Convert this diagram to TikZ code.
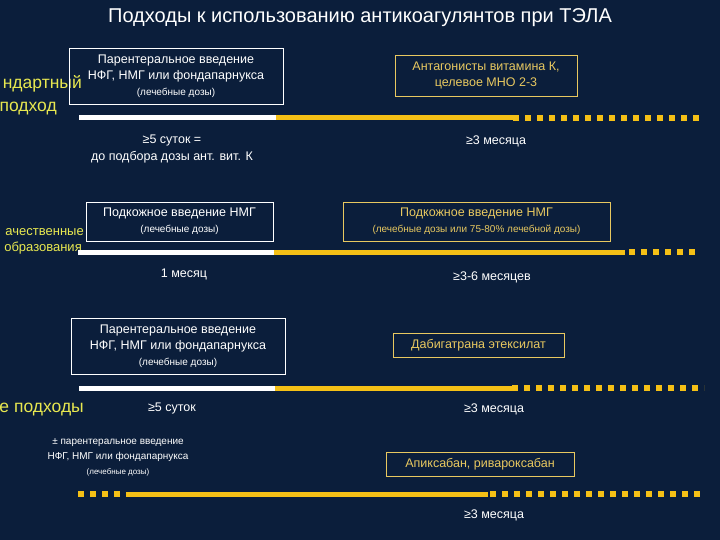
\documentclass[tikz,border=0pt]{standalone}
\usepackage{fontspec}
\setmainfont{Liberation Sans}
\definecolor{bg}{HTML}{0B1E3B}
\definecolor{ybar}{HTML}{F5C016}
\definecolor{ytext}{HTML}{E8C860}
\definecolor{ylab}{HTML}{E8E850}
\tikzset{
 wbox/.style={draw=white,line width=0.8pt,text=white,align=center,inner sep=0pt},
 ybox/.style={draw=ytext,line width=0.8pt,text=ytext,align=center,inner sep=0pt},
 txt/.style={text=white,align=center,inner sep=0pt},
 lab/.style={text=ylab,inner sep=0pt},
 wbar/.style={draw=white,line width=5pt},
 ybarsolid/.style={draw=ybar,line width=5pt},
 ydots/.style={draw=ybar,line width=6pt,dash pattern=on 6pt off 6pt},
}
\newcommand{\fs}[1]{\fontsize{#1}{#1}\selectfont}
\begin{document}
\begin{tikzpicture}[x=1pt,y=-1pt]
\fill[bg] (0,0) rectangle (720,540);
\useasboundingbox (0,0) rectangle (720,540);
\clip (0,0) rectangle (720,540);
\node[txt] (title) at (360,18) {\fs{20}Подходы к использованию антикоагулянтов при ТЭЛА};
% left labels (cut at the left edge in the reference)
\node[lab,anchor=east] (l1a) at (82,84) {\fs{17.5}ндартный};
\node[lab,anchor=east] (l1b) at (57,109) {\fs{17.5}подход};
\node[lab,anchor=east] (l2a) at (84,232) {\fs{13}ачественные};
\node[lab,anchor=east] (l2b) at (82,248) {\fs{13}образования};
\node[lab,anchor=east] (l3) at (84,410) {\fs{17.5}е подходы};
% row 1
\node[wbox,minimum width=214,minimum height=56] (b1) at (176,76) {\fs{12.5}Парентеральное введение\\[4pt]\fs{12.5}НФГ, НМГ или фондапарнукса\\[4pt]\fs{10}(лечебные дозы)};
\node[ybox,minimum width=182,minimum height=41] (b2) at (486,75.5) {\fs{12.5}Антагонисты витамина К,\\[4pt]\fs{12.5}целевое МНО 2-3};
\coordinate (a1) at (79,118); \coordinate (a2) at (276,118); \coordinate (a3) at (513,118); \coordinate (a4) at (704,118);
\draw[wbar] (a1) -- (a2);
\draw[ybarsolid] (a2) -- (a3);
\draw[ydots] (a3) -- (a4);
\node[txt] (t1) at (172,149) {\fs{12.5}≥5 суток =\\[5pt]\fs{12.5}до подбора дозы ант. вит. К};
\node[txt] (t2) at (496,141) {\fs{12.5}≥3 месяца};
% row 2
\node[wbox,minimum width=187,minimum height=39] (b3) at (179.5,221.5) {\fs{12.5}Подкожное введение НМГ\\[4pt]\fs{10}(лечебные дозы)};
\node[ybox,minimum width=267,minimum height=39] (b4) at (476.5,221.5) {\fs{12.5}Подкожное введение НМГ\\[4pt]\fs{10}(лечебные дозы или 75-80\% лечебной дозы)};
\coordinate (c1) at (78,252); \coordinate (c2) at (274,252); \coordinate (c3) at (625,252); \coordinate (c4) at (700,252);
\draw[wbar] (c1) -- (c2);
\draw[ybarsolid] (c2) -- (c3);
\draw[ydots] ([xshift=4pt]c3) -- (c4);
\node[txt] (t3) at (184,274) {\fs{12.5}1 месяц};
\node[txt] (t4) at (492,277) {\fs{12.5}≥3-6 месяцев};
% row 3
\node[wbox,minimum width=214,minimum height=56] (b5) at (178,346) {\fs{12.5}Парентеральное введение\\[4pt]\fs{12.5}НФГ, НМГ или фондапарнукса\\[4pt]\fs{10}(лечебные дозы)};
\node[ybox,minimum width=171,minimum height=24] (b6) at (478.5,345.5) {\fs{12.5}Дабигатрана этексилат};
\coordinate (d1) at (79,388); \coordinate (d2) at (275,388); \coordinate (d3) at (512,388); \coordinate (d4) at (704,388);
\draw[wbar] (d1) -- (d2);
\draw[ybarsolid] (d2) -- (d3);
\draw[ydots] (d3) -- (d4);
\node[txt] (t5) at (172,408) {\fs{12.5}≥5 суток};
\node[txt] (t6) at (494,409) {\fs{12.5}≥3 месяца};
% row 4
\node[txt] (t7) at (118,457) {\fs{10}± парентеральное введение\\[3pt]\fs{10}НФГ, НМГ или фондапарнукса\\[3pt]\fs{8}(лечебные дозы)};
\node[ybox,minimum width=188,minimum height=24] (b7) at (480,464.5) {\fs{12.5}Апиксабан, ривароксабан};
\coordinate (e1) at (78,494); \coordinate (e2) at (124,494); \coordinate (e3) at (488,494); \coordinate (e4) at (704,494);
\draw[ydots] (e1) -- (e2);
\draw[ybarsolid] ([xshift=2pt]e2) -- (e3);
\draw[ydots] ([xshift=2pt]e3) -- (e4);
\node[txt] (t8) at (494,515) {\fs{12.5}≥3 месяца};
\end{tikzpicture}
\end{document}
